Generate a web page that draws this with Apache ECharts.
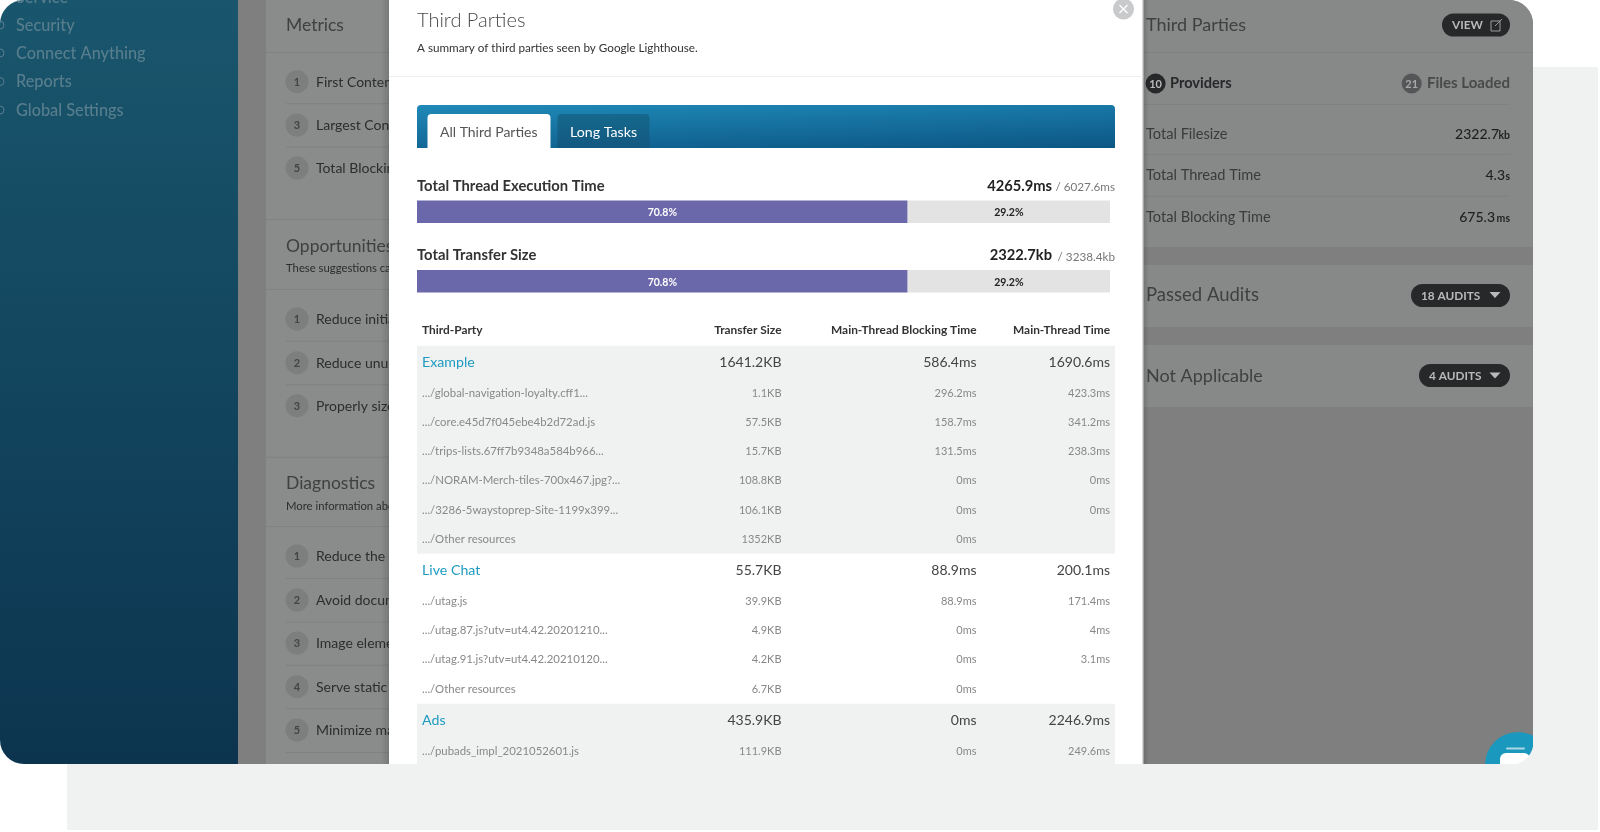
<!DOCTYPE html>
<html><head><meta charset="utf-8">
<style>html,body{margin:0;padding:0;background:#fff}#c{width:1600px;height:832px;filter:blur(0.4px)}</style>
<script src="https://cdn.jsdelivr.net/npm/echarts@6/dist/echarts.min.js"></script>
</head><body><div id="c"></div>
<script>
// ---------- data ----------
const barNames = ['Total Thread Execution Time', 'Total Transfer Size'];
const barThirdParty = [70.8, 70.8];
const barRemainder = [29.2, 29.2];
const barTotals = ['4265.9ms', '2322.7kb'];
const barMax = ['/ 6027.6ms', '/ 3238.4kb'];
const tableHeaders = ['Third-Party', 'Transfer Size', 'Main-Thread Blocking Time', 'Main-Thread Time'];
const rowNames = ['Example', '.../global-navigation-loyalty.cff1...', '.../core.e45d7f045ebe4b2d72ad.js', '.../trips-lists.67ff7b9348a584b966...', '.../NORAM-Merch-tiles-700x467.jpg?...', '.../3286-5waystoprep-Site-1199x399...', '.../Other resources', 'Live Chat', '.../utag.js', '.../utag.87.js?utv=ut4.42.20201210...', '.../utag.91.js?utv=ut4.42.20210120...', '.../Other resources', 'Ads', '.../pubads_impl_2021052601.js'];
const rowSizes = ['1641.2KB', '1.1KB', '57.5KB', '15.7KB', '108.8KB', '106.1KB', '1352KB', '55.7KB', '39.9KB', '4.9KB', '4.2KB', '6.7KB', '435.9KB', '111.9KB'];
const rowBlocking = ['586.4ms', '296.2ms', '158.7ms', '131.5ms', '0ms', '0ms', '0ms', '88.9ms', '88.9ms', '0ms', '0ms', '0ms', '0ms', '0ms'];
const rowMain = ['1690.6ms', '423.3ms', '341.2ms', '238.3ms', '0ms', '0ms', '', '200.1ms', '171.4ms', '4ms', '3.1ms', '', '2246.9ms', '249.6ms'];
const rowIsGroup = [1,0,0,0,0,0,0,1,0,0,0,0,1,0];
const navItems = ['Service', 'Security', 'Connect Anything', 'Reports', 'Global Settings'];
const metricItems = [['1','First Contentful Paint'],['3','Largest Contentful Paint'],['5','Total Blocking Time']];
const opportunityItems = [['1','Reduce initial server response'],['2','Reduce unused JavaScript'],['3','Properly size images']];
const diagnosticItems = [['1','Reduce the impact of third-party'],['2','Avoid document.write()'],['3','Image elements do not have'],['4','Serve static assets with'],['5','Minimize main-thread work']];
const summaryLabels = ['Total Filesize', 'Total Thread Time', 'Total Blocking Time'];
const summaryValues = ['2322.7', '4.3', '675.3'];
const summaryUnits = ['kb', 's', 'ms'];

// ---------- page chrome ----------
const FONT = 'Lato, "Noto Sans", sans-serif';
const g = [];
const R = (x,y,w,h,fill,r) => g.push({type:'rect',shape:{x,y,width:w,height:h,r:r||0},style:{fill}});
const L = (x1,y,x2,color) => g.push({type:'rect',shape:{x:x1,y:y,width:x2-x1,height:1},style:{fill:color}});
const C = (cx,cy,r,fill) => g.push({type:'circle',shape:{cx,cy,r},style:{fill}});
const T = (text,x,y,size,fill,align,weight) => g.push({type:'text',style:{text,x,y:y+0.5,fill,align:align||'left',verticalAlign:'middle',font:(weight||400)+' '+size+'px '+FONT}});
const grad = (a,b,x2,y2) => ({type:'linear',x:0,y:0,x2:x2||0,y2:y2===undefined?1:y2,colorStops:[{offset:0,color:a},{offset:1,color:b}]});

// backgrounds
R(1500,67,98,763,'#f0f2f1');
R(67,700,1531,130,'#f0f2f1');
// left sidebar
R(0,0,260,764,grad('#19566d','#0c344f'),[24,0,0,24]);
const navY = [-3,25,53,81.5,110];
navItems.forEach((t,i)=>T(t,16,navY[i],16.3,'#587e8d','left',500));
[25,53,81.5,110].forEach(y=>{g.push({type:'circle',shape:{cx:0,cy:y,r:4},style:{fill:'none',stroke:'#587e8d',lineWidth:1}});});
// middle & right dark panels
R(238,0,906,764,'#7f7f7f');
R(266,0,130,764,'#8a8b8b');
T('Metrics',286,25,17.5,'#3f4040');
L(266,52,389,'#808181');
const numbered = (items,ys) => items.forEach((it,i)=>{
  C(297,ys[i],11.5,'#7d7e7e');
  T(it[0],297,ys[i],11,'#444','center',700);
  T(it[1],316,ys[i],14,'#2c2d2d');
  if(i<items.length-1) L(286,(ys[i]+ys[i+1])/2,389,'#808181');
});
numbered(metricItems,[81.7,125,168]);
L(266,219,389,'#808181');
T('Opportunities',286,245.5,17.5,'#3f4040');
T('These suggestions can help',286,268,11.3,'#2c2d2d');
L(266,289,389,'#808181');
numbered(opportunityItems,[319,362.7,405.7]);
L(266,456.7,389,'#808181');
T('Diagnostics',286,483,17.5,'#3f4040');
T('More information about',286,505.7,11.3,'#2c2d2d');
L(266,526,389,'#808181');
numbered(diagnosticItems,[556,600,643,686.7,730]);
L(286,752,389,'#808181');
R(381,0,8,764,grad('rgba(0,0,0,0)','rgba(0,0,0,0.14)',1,0));

// right panel
R(1143,0,390,764,'#7f7f7f',[0,24,24,0]);
R(1143,0,390,247,'#878988',[0,24,0,0]);
R(1143,265,390,62,'#878988');
R(1143,345,390,62,'#878988');
T('Third Parties',1146,25,18,'#3f4040');
L(1143,52,1533,'#808181');
const pill = (x,w,y,h,label) => {R(x,y,w,h,'#26282a',11.5); T(label,x+10,y+h/2,11.8,'#b9baba','left',700);};
pill(1442,68,13.5,23,'VIEW');
g.push({type:'rect',shape:{x:1491,y:21,width:9,height:10},style:{fill:'none',stroke:'#9b9c9c',lineWidth:1}});
g.push({type:'polyline',shape:{points:[[1495,26],[1502,19]]},style:{stroke:'#9b9c9c',lineWidth:1,fill:'none'}});
C(1155.6,83.5,10,'#26282a'); T('10',1155.6,83.5,11,'#b9baba','center',700);
T('Providers',1170,83,14.6,'#26282a','left',700);
C(1411.7,83.5,10,'#555657'); T('21',1411.7,83.5,11,'#a8a9a9','center',700);
T('Files Loaded',1510,83,15,'#484a4a','right',700);
L(1143,104,1510,'#808181');
const sumY = [133.7,175,216.7];
summaryLabels.forEach((t,i)=>{
  T(t,1146,sumY[i],14.6,'#3a3b3b');
  T(summaryUnits[i],1510,sumY[i]+1,10.5,'#222','right',700);
  const uw = [11,5,15][i];
  T(summaryValues[i],1510-uw,sumY[i],14,'#1e1f1f','right',500);
});
L(1143,154,1510,'#808181'); L(1143,195.7,1510,'#808181');
T('Passed Audits',1146,295,18.5,'#3f4040');
const tri = (cx,cy)=>g.push({type:'polygon',shape:{points:[[cx-5.5,cy-3],[cx+5.5,cy-3],[cx,cy+3]]},style:{fill:'#b9baba'}});
pill(1411,99,284,23,'18 AUDITS'); tri(1495,295);
T('Not Applicable',1146,375.5,18,'#3f4040');
pill(1419,91,364,23,'4 AUDITS'); tri(1495,375.5);
// chat bubble clipped by the rounded card corner
C(1518,765,33,'#1b98bd');
R(1506,747.5,19,2,'#a9d8e4',1);
R(1500,753,30,20,'#fff',[6,6,0,0]);
R(1480,764,70,40,'#f0f2f1');
R(1533,725,20,50,'#f0f2f1');
// rounded bottom-right corner of the card
const cornerPts = [[1534,765]];
for (let a = 0; a <= 90; a += 10) {
  const rad = a * Math.PI / 180;
  cornerPts.push([1511 + 22.5 * Math.cos(rad), 742 + 22.5 * Math.sin(rad)]);
}
g.push({type:'polygon',shape:{points:cornerPts},style:{fill:'#f0f2f1'}});

// modal
R(389,0,754,764,'#fff');
R(1143,0,6,764,grad('rgba(0,0,0,0.16)','rgba(0,0,0,0)',1,0));
R(1142,0,1.5,764,'#d8d9d9');
T('Third Parties',417,20.5,20,'#4a4a4a','left',300);
T('A summary of third parties seen by Google Lighthouse.',417,47.5,11.7,'#333');
L(389,76,1143,'#ecedee');
// tabs
R(417,105,698,43,grad('#1f8ab8','#0c5583',0.003,1.53),[4,4,0,0]);
R(427.5,114,123,34,'#fff',[4,4,0,0]);
T('All Third Parties',440,132,14,'#555');
R(557.5,114,92,34,grad('#16688d','#125880'),[4,4,0,0]);
T('Long Tasks',570,132,14.2,'#fff');
// bar titles
const titleY = [185.5,255];
barNames.forEach((t,i)=>{
  T(t,417,titleY[i],14.8,'#333','left',700);
  T(barMax[i],1115,titleY[i]+1.5,11.7,'#777','right');
  T(barTotals[i],1052,titleY[i],14.7,'#222','right',700);
});
// table
const colX = [422,781.5,976.5,1110];
const headY = 330;
tableHeaders.forEach((t,i)=>T(t,colX[i],headY,11.9,'#333',i?'right':'left',700));
R(417,345.7,698,208,'#f0f2f1');
R(417,703.7,698,60.5,'#f0f2f1');
const rowY = [362,392.7,422,451,480,509.7,538.7,570,601,630,659.3,688.7,720,750.7];
rowNames.forEach((n,i)=>{
  const grp = rowIsGroup[i];
  const size = grp?14:11, col = grp?'#444':'#888';
  T(n,colX[0],rowY[i],grp?14.2:11.4,grp?'#1d9bc1':'#888');
  T(rowSizes[i],colX[1],rowY[i],size,col,'right');
  T(rowBlocking[i],colX[2],rowY[i],size,col,'right');
  if(rowMain[i]) T(rowMain[i],colX[3],rowY[i],size,col,'right');
});
// close button
C(1123.5,9,10.5,'#c9cacb');
g.push({type:'polyline',shape:{points:[[1119.5,5],[1127.5,13]]},style:{stroke:'#fff',lineWidth:1.3,fill:'none'}});
g.push({type:'polyline',shape:{points:[[1127.5,5],[1119.5,13]]},style:{stroke:'#fff',lineWidth:1.3,fill:'none'}});

// ---------- chart ----------
const grids=[], xAxes=[], yAxes=[], series=[];
const tops=[200.5,270];
barNames.forEach((n,i)=>{
  grids.push({left:417,width:693,top:tops[i],height:22.5});
  xAxes.push({gridIndex:i,type:'value',min:0,max:100,show:false});
  yAxes.push({gridIndex:i,type:'category',data:[n],show:false});
  const lab = (color)=>({show:true,position:'inside',offset:[0,1],formatter:'{c}%',color,fontFamily:FONT,fontSize:10.5,fontWeight:700});
  series.push({type:'bar',xAxisIndex:i,yAxisIndex:i,stack:'s'+i,barWidth:'100%',silent:true,animation:false,data:[barThirdParty[i]],itemStyle:{color:'#6b67ab'},label:lab('#fff')});
  series.push({type:'bar',xAxisIndex:i,yAxisIndex:i,stack:'s'+i,barWidth:'100%',silent:true,animation:false,data:[barRemainder[i]],itemStyle:{color:'#e3e3e3'},label:lab('#222')});
});
const chart = echarts.init(document.getElementById('c'),null,{width:1600,height:832});
chart.setOption({animation:false,backgroundColor:'#fff',grid:grids,xAxis:xAxes,yAxis:yAxes,series,graphic:{elements:g}});
</script></body></html>
